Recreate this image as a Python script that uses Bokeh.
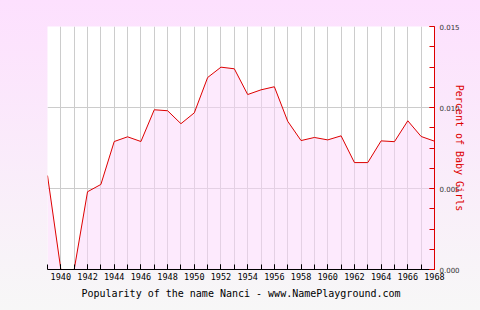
from bokeh.plotting import figure
from bokeh.models import FixedTicker, LinearAxis, Range1d
from bokeh.embed import file_html
from bokeh.resources import INLINE

years = list(range(1939, 1969))
percent = [0.0058, 0.0, 0.0, 0.0048, 0.00525, 0.0079, 0.00819, 0.0079, 0.00986, 0.0098,
           0.0090, 0.00967, 0.01185, 0.01249, 0.01239, 0.0108, 0.01109, 0.01128, 0.00915, 0.00796,
           0.00815, 0.0080, 0.00825, 0.0066, 0.0066, 0.00794, 0.00789, 0.00918, 0.00821, 0.00792]
x_labels = list(range(1940, 1969, 2))
y_ticks = [0.0, 0.005, 0.010, 0.015]
title_text = "Popularity of the name Nanci - www.NamePlayground.com"
y_title = "Percent of Baby Girls"

p = figure(width=480, height=310, output_backend="svg", toolbar_location=None,
           x_range=Range1d(1939, 1968), y_range=Range1d(0, 0.015),
           min_border_left=47, min_border_right=46, min_border_top=26, min_border_bottom=41,
           y_axis_location=None)
p.border_fill_alpha = 0
p.background_fill_color = "white"
p.outline_line_color = None
p.styles = {"background": "linear-gradient(to bottom, #fde0fe, #f7f7f7)"}

p.varea(x=years, y1=[0] * len(years), y2=percent, fill_color="#fbd6fb", fill_alpha=0.5)
p.line(x=years, y=percent, line_color="#dd0000", line_width=1)

# grids
p.xgrid.ticker = FixedTicker(ticks=years)
p.xgrid.grid_line_color = "#cccccc"
p.ygrid.ticker = FixedTicker(ticks=y_ticks)
p.ygrid.grid_line_color = "#cccccc"

# bottom axis
xa = p.xaxis[0]
xa.ticker = FixedTicker(ticks=x_labels, minor_ticks=years)
xa.axis_line_color = "black"
xa.major_tick_line_color = "black"
xa.minor_tick_line_color = "black"
xa.major_tick_in = 5
xa.major_tick_out = 0
xa.minor_tick_in = 5
xa.minor_tick_out = 0
xa.major_label_text_font = "DejaVu Sans Mono"
xa.major_label_text_font_size = "8.5px"
xa.major_label_text_color = "black"
xa.major_label_standoff = 3
xa.axis_label = title_text
xa.axis_label_text_font = "DejaVu Sans Mono"
xa.axis_label_text_font_size = "10px"
xa.axis_label_text_font_style = "normal"
xa.axis_label_text_color = "black"
xa.axis_label_standoff = 5

# right axis
ya = LinearAxis(ticker=FixedTicker(ticks=y_ticks, minor_ticks=[i * 0.00125 for i in range(13)]))
ya.major_label_overrides = {t: f"{t:.3f}" for t in y_ticks}
ya.axis_line_color = "#dd0000"
ya.major_tick_line_color = "#dd0000"
ya.minor_tick_line_color = "#dd0000"
ya.major_tick_in = 5
ya.major_tick_out = 0
ya.minor_tick_in = 5
ya.minor_tick_out = 0
ya.major_label_text_font = "DejaVu Sans"
ya.major_label_text_font_size = "7px"
ya.major_label_text_color = "#333333"
ya.major_label_standoff = 5
ya.axis_label = y_title
ya.axis_label_text_font = "DejaVu Sans Mono"
ya.axis_label_text_font_size = "10px"
ya.axis_label_text_font_style = "normal"
ya.axis_label_text_color = "#dd0000"
ya.axis_label_standoff = -9
p.add_layout(ya, "right")

open("out.html", "w").write(file_html(p, INLINE))
